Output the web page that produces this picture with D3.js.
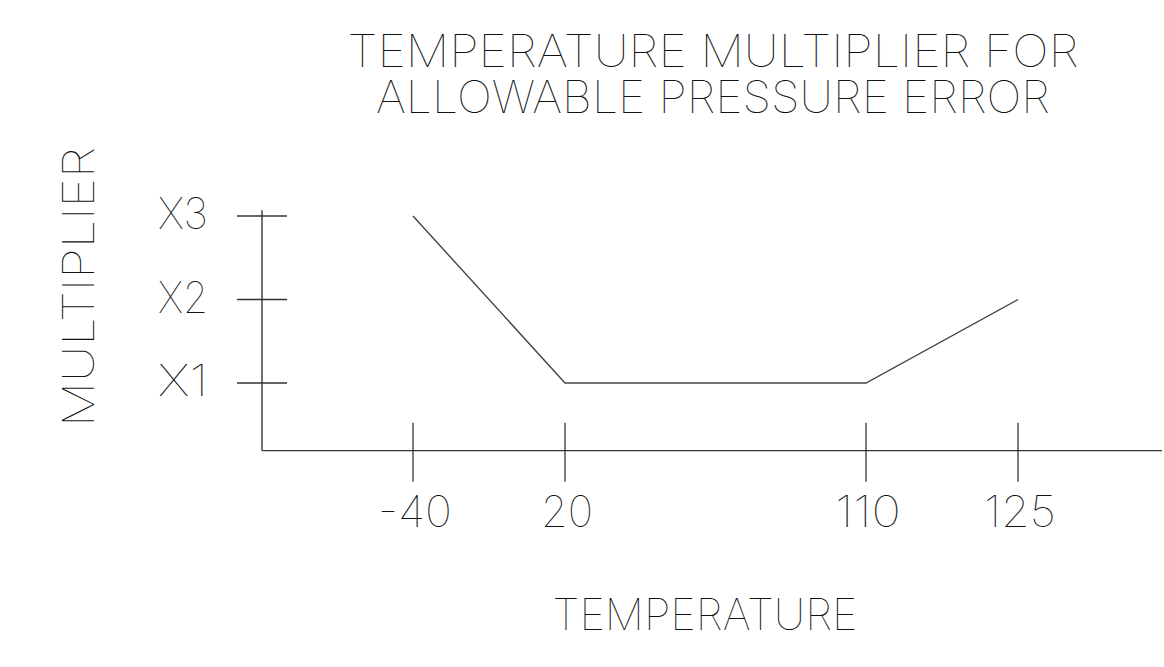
<!DOCTYPE html>
<html>
<head>
<meta charset="utf-8">
<script src="https://cdn.jsdelivr.net/npm/d3@7/dist/d3.min.js"></script>
<style>
  html, body { margin: 0; padding: 0; background: #fff; }
  svg { display: block; }
  text { font-family: Inter, Lato, "DejaVu Sans Mono", sans-serif; font-weight: 100; fill: #111; }
</style>
</head>
<body>
<svg id="chart" width="1164" height="667"></svg>
<script>
// data
var titleLines = ['TEMPERATURE MULTIPLIER FOR', 'ALLOWABLE PRESSURE ERROR'];
var xTitle = 'TEMPERATURE';
var yTitle = 'MULTIPLIER';
var tempTicks = [-40, 20, 110, 125];
var multTicks = [1, 2, 3];
var multLabels = ['X1', 'X2', 'X3'];
var curveTemp = [-40, 20, 110, 125];
var curveMult = [3, 1, 1, 2];

var svg = d3.select('#chart');

// x is drawn schematic, not to scale -> piecewise linear scale
var x = d3.scaleLinear()
  .domain(tempTicks)
  .range([413, 565, 866, 1018]);
var y = d3.scaleLinear()
  .domain([1, 3])
  .range([383, 216]);

var xMin = -99.6, xMax = 139.2;   // axis extents
var yMin = 0.19, yMax = 3.07;

var g = svg.append('g');

// axes lines
g.append('line')
  .attr('x1', x(xMin)).attr('x2', x(xMax))
  .attr('y1', y(yMin)).attr('y2', y(yMin))
  .attr('stroke', '#333').attr('stroke-width', 1.4);
g.append('line')
  .attr('x1', x(xMin)).attr('x2', x(xMin))
  .attr('y1', y(yMin)).attr('y2', y(yMax))
  .attr('stroke', '#333').attr('stroke-width', 1.4);

// x ticks cross the axis
g.selectAll('.xtick')
  .data(tempTicks)
  .enter().append('line')
    .attr('class', 'xtick')
    .attr('x1', function(d) { return x(d); })
    .attr('x2', function(d) { return x(d); })
    .attr('y1', y(yMin) - 28)
    .attr('y2', y(yMin) + 31)
    .attr('stroke', '#222').attr('stroke-width', 1.2);

g.selectAll('.ytick')
  .data(multTicks)
  .enter().append('line')
    .attr('class', 'ytick')
    .attr('x1', x(xMin) - 25)
    .attr('x2', x(xMin) + 25)
    .attr('y1', function(d) { return y(d); })
    .attr('y2', function(d) { return y(d); })
    .attr('stroke', '#333').attr('stroke-width', 1.3);

// tick labels
var xLabW = { '-40': 74, '20': 52, '110': 66, '125': 72 };
g.selectAll('.xlab')
  .data(tempTicks)
  .enter().append('text')
    .attr('class', 'xlab')
    .attr('x', function(d) { return x(d) + 2; })
    .attr('y', 527)
    .attr('text-anchor', 'middle')
    .attr('font-size', 43)
    .attr('textLength', function(d) { return xLabW[d]; })
    .attr('lengthAdjust', 'spacingAndGlyphs')
    .text(function(d) { return d; });

g.selectAll('.ylab')
  .data(multTicks)
  .enter().append('text')
    .attr('class', 'ylab')
    .attr('x', 208)
    .attr('y', function(d) { return y(d) + 13; })
    .attr('text-anchor', 'end')
    .attr('font-size', 43)
    .attr('textLength', 50)
    .attr('lengthAdjust', 'spacingAndGlyphs')
    .text(function(d, i) { return multLabels[i]; });

// the curve
var line = d3.line()
  .x(function(d) { return x(d[0]); })
  .y(function(d) { return y(d[1]); });
g.append('path')
  .datum(d3.zip(curveTemp, curveMult))
  .attr('d', line)
  .attr('fill', 'none')
  .attr('stroke', '#444')
  .attr('stroke-width', 1.4);

// two-line title as one text block
svg.append('text')
  .attr('class', 'title')
  .attr('text-anchor', 'middle')
  .attr('font-size', 45)
  .selectAll('tspan')
  .data(titleLines)
  .enter().append('tspan')
    .attr('x', 713)
    .attr('y', function(d, i) { return 67 + i * 46; })
    .attr('textLength', function(d) { return d.length * 28.5 - 10; })
    .attr('lengthAdjust', 'spacingAndGlyphs')
    .text(function(d) { return d; });

svg.append('text')
  .attr('x', 705).attr('y', 630)
  .attr('text-anchor', 'middle')
  .attr('font-size', 44)
  .attr('textLength', 305)
  .attr('lengthAdjust', 'spacingAndGlyphs')
  .text(xTitle);

svg.append('text')
  .attr('transform', 'translate(94,287) rotate(-90)')
  .attr('text-anchor', 'middle')
  .attr('font-size', 44)
  .attr('textLength', 280)
  .attr('lengthAdjust', 'spacingAndGlyphs')
  .text(yTitle);
</script>
</body>
</html>
